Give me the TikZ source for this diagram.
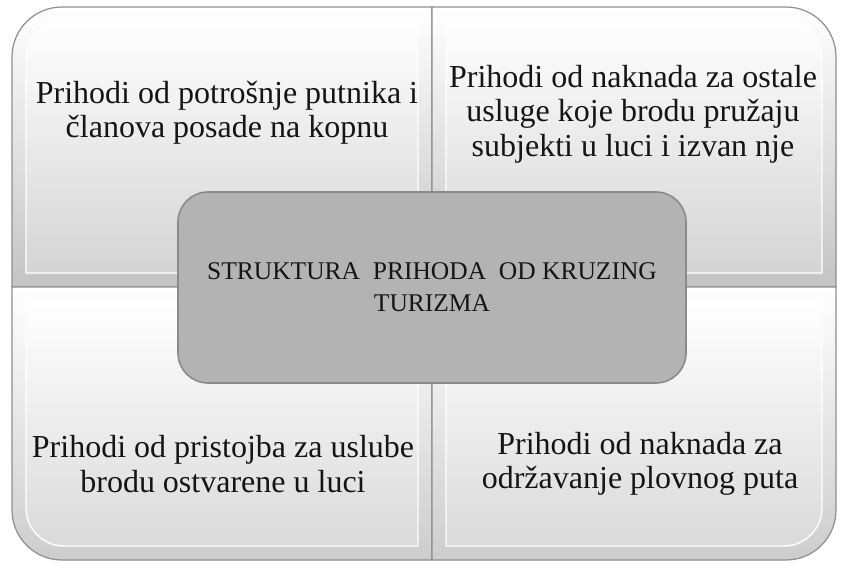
\documentclass[tikz,border=0pt]{standalone}
\usepackage{fontspec}
\setmainfont{LiberationSerif}[Extension=.ttf, UprightFont=*-Regular, BoldFont=*-Bold, ItalicFont=*-Italic]
\definecolor{seam}{HTML}{8E8E8E}
\definecolor{topbot}{HTML}{C4C4C4}
\definecolor{topin}{HTML}{D4D4D4}
\definecolor{botbot}{HTML}{CDCDCD}
\definecolor{botin}{HTML}{DADADA}
\definecolor{cfill}{HTML}{B3B3B3}
\definecolor{cline}{HTML}{8A8A8A}
\definecolor{txt}{HTML}{151515}
\tikzset{
  outerq/.style={draw=seam, line width=1.2pt},
  innerq/.style={draw=white, line width=1.4pt},
  qtext/.style={align=center, text=txt, font=\fontsize{32}{34.5}\selectfont, inner sep=0pt},
  centerbox/.style={rectangle, rounded corners=30pt, fill=cfill, draw=cline, line width=1.6pt,
     minimum width=508pt, minimum height=191pt, align=center, text=txt,
     font=\fontsize{25.5}{32}\selectfont}
}
\begin{document}
\begin{tikzpicture}[x=1pt,y=1pt]
\useasboundingbox (0,0) rectangle (841,568);
\fill[white] (0,0) rectangle (841,568);
% top-left
\shade[outerq, top color=white, bottom color=topbot]
  (12,281) -- (12,511) arc[start angle=180,end angle=90,radius=50] -- (432,561) -- (432,281) -- cycle;
\shade[innerq, top color=white, bottom color=topin]
  (26,295) -- (26,509) arc[start angle=180,end angle=90,radius=38] -- (418,547) -- (418,295) -- cycle;
% top-right
\shade[outerq, top color=white, bottom color=topbot]
  (432,281) -- (432,561) -- (786,561) arc[start angle=90,end angle=0,radius=50] -- (836,281) -- cycle;
\shade[innerq, top color=white, bottom color=topin]
  (446,295) -- (446,547) -- (784,547) arc[start angle=90,end angle=0,radius=38] -- (822,295) -- cycle;
% bottom-left
\shade[outerq, top color=white, bottom color=botbot]
  (12,281) -- (432,281) -- (432,8) -- (62,8) arc[start angle=270,end angle=180,radius=50] -- cycle;
\shade[innerq, top color=white, bottom color=botin]
  (26,267) -- (418,267) -- (418,22) -- (64,22) arc[start angle=270,end angle=180,radius=38] -- cycle;
% bottom-right
\shade[outerq, top color=white, bottom color=botbot]
  (432,281) -- (836,281) -- (836,58) arc[start angle=0,end angle=-90,radius=50] -- (432,8) -- cycle;
\shade[innerq, top color=white, bottom color=botin]
  (446,267) -- (822,267) -- (822,60) arc[start angle=0,end angle=-90,radius=38] -- (446,22) -- cycle;
% texts
\node[qtext] (tl) at (227,455) {Prihodi od potrošnje putnika i\\članova posade na kopnu};
\node[qtext] (tr) at (633,454) {Prihodi od naknada za ostale\\usluge koje brodu pružaju\\subjekti u luci i izvan nje};
\node[qtext] (bl) at (223,104) {Prihodi od pristojba za uslube\\brodu ostvarene u luci};
\node[qtext] (br) at (640,104) {Prihodi od naknada za\\održavanje plovnog puta};
% center
\node[centerbox] (c) at (432,280.5) {STRUKTURA\ \ PRIHODA\ \ OD KRUZING\\TURIZMA};
\end{tikzpicture}
\end{document}
